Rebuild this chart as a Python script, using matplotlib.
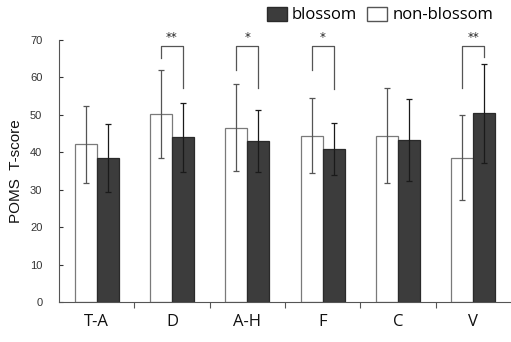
import matplotlib
matplotlib.use("Agg")
import matplotlib.pyplot as plt
import numpy as np
from matplotlib.patches import Patch

categories = ["T-A", "D", "A-H", "F", "C", "V"]
non_blossom = [42.1, 50.3, 46.6, 44.4, 44.4, 38.6]
non_blossom_sd = [10.3, 11.8, 11.7, 10.0, 12.7, 11.4]
blossom = [38.5, 44.0, 43.1, 40.8, 43.3, 50.4]
blossom_sd = [9.0, 9.2, 8.3, 7.0, 10.9, 13.3]
sig_idx = [1, 2, 3, 5]
sig_labels = ["**", "*", "*", "**"]
sig_left_end = [65.2, 62.0, 62.0, 57.2]
sig_right_end = [57.1, 57.2, 57.0, 65.4]
sig_top = 68.4
yticks = [0, 10, 20, 30, 40, 50, 60, 70]

fig = plt.figure(figsize=(5.11, 3.42), dpi=100)
ax = fig.add_axes([59/511, 1-302/342, 1-59/511, (302-40)/342])

x = np.arange(len(categories))
w = 0.29
ax.bar(x - w/2, non_blossom, w, color="white", edgecolor="#7a7a7a", linewidth=0.9, zorder=2)
ax.bar(x + w/2, blossom, w, color="#3c3c3c", edgecolor="#2a2a2a", linewidth=0.9, zorder=2)
ax.errorbar(x - w/2, non_blossom, yerr=non_blossom_sd, fmt="none", ecolor="#555555",
            elinewidth=0.9, capsize=2.5, capthick=0.9, zorder=3)
ax.errorbar(x + w/2, blossom, yerr=blossom_sd, fmt="none", ecolor="#1a1a1a",
            elinewidth=0.9, capsize=2.5, capthick=0.9, zorder=3)

for i, lab, le, re in zip(sig_idx, sig_labels, sig_left_end, sig_right_end):
    xl, xr = i - w/2, i + w/2
    ax.plot([xl, xl, xr, xr], [le, sig_top, sig_top, re], color="#555555", lw=0.9,
            clip_on=False, zorder=3)
    ax.text(i, sig_top + 0.6, lab, ha="center", va="bottom", fontsize=8.5,
            color="#222222", family="DejaVu Sans")

ax.set_xlim(-0.5, 5.5)
ax.set_ylim(0, 70)
ax.set_yticks(yticks)
ax.tick_params(axis="y", direction="in", length=3, labelsize=8, colors="#333333", pad=12)
ax.set_xticks(np.arange(0.5, 5.0, 1.0))
ax.set_xticklabels([])
ax.tick_params(axis="x", which="major", direction="out", length=4, color="#555555")
ax.set_xticks(x, minor=True)
ax.set_xticklabels(categories, minor=True, fontsize=12, family="Open Sans", color="#111111")
ax.tick_params(axis="x", which="minor", length=0, pad=9)
for lbl in ax.get_yticklabels():
    lbl.set_family("Liberation Sans")
ax.spines["top"].set_visible(False)
ax.spines["right"].set_visible(False)
ax.spines["left"].set_color("#555555")
ax.spines["bottom"].set_color("#555555")
ax.set_ylabel("POMS  T-score", fontsize=11, family="Liberation Sans", color="#111111", labelpad=5)

handles = [Patch(facecolor="#3c3c3c", edgecolor="#2a2a2a"),
           Patch(facecolor="white", edgecolor="#555555")]
fig.legend(handles, ["blossom", "non-blossom"], loc="center", bbox_to_anchor=(380/511, 1-15/342),
           ncol=2, frameon=False, prop={"family": "Open Sans", "size": 12},
           handlelength=1.2, handleheight=0.9, handletextpad=0.3, columnspacing=0.6)

fig.savefig("out.png", dpi=100)
